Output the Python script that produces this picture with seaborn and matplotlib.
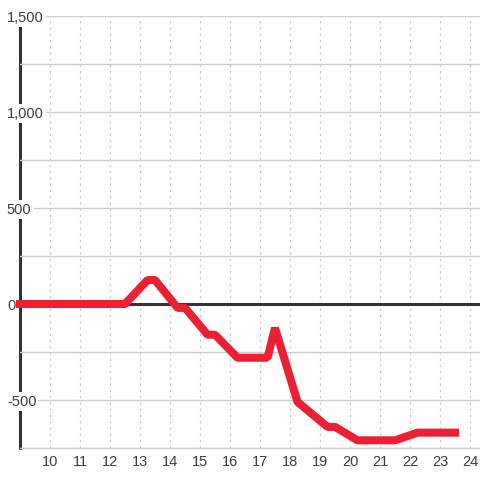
import matplotlib
matplotlib.use("Agg")
import matplotlib.pyplot as plt
from matplotlib.ticker import FuncFormatter, MultipleLocator
import pandas as pd
import seaborn as sns

# corner points of the red series
hours = [9, 12.5, 13.25, 13.5, 14.25, 14.5, 15.25, 15.5, 16.25, 17.25, 17.5,
         18.25, 19.25, 19.5, 20.25, 21.5, 22.25, 23.5]
values = [0, 0, 125, 125, -20, -20, -160, -160, -280, -280, -125,
          -510, -640, -640, -710, -710, -670, -670]

x_ticks = list(range(10, 25))
y_ticks = [-500, 0, 500, 1000, 1500]

RED = "#ed1f33"
TEXT = "#3d3d3d"
GRID = "#cccccc"

sns.set_theme(style="whitegrid")
plt.rcParams["font.family"] = ["Liberation Sans", "DejaVu Sans"]

df = pd.DataFrame({"hour": hours, "value": values})

fig = plt.figure(figsize=(4.8, 4.8), dpi=100)
ax = fig.add_axes([20 / 480, 32 / 480, 460 / 480, 432 / 480])

ax.axhline(0, color="#333333", lw=2.2, zorder=2.7)
sns.lineplot(data=df, x="hour", y="value", ax=ax, color=RED, lw=5.8,
             zorder=3, clip_on=False, solid_capstyle="projecting",
             solid_joinstyle="bevel")

ax.set_xlim(9, 9 + 460 / 30)
ax.set_ylim(-750, 1500)
ax.set_xticks(x_ticks)
ax.set_yticks(y_ticks)
ax.yaxis.set_minor_locator(MultipleLocator(250))
ax.yaxis.set_major_formatter(FuncFormatter(lambda v, _: f"{v:,.0f}"))
ax.set_xlabel("")
ax.set_ylabel("")

ax.set_axisbelow(False)
ax.grid(False)
ax.grid(axis="y", which="both", color=GRID, lw=1, ls="-")
ax.grid(axis="x", which="major", color=GRID, lw=0.9, ls=(0, (2, 3)))

for s in ["top", "right"]:
    ax.spines[s].set_visible(False)
ax.spines["left"].set_color("#333333")
ax.spines["left"].set_linewidth(2.2)
ax.spines["bottom"].set_color(GRID)
ax.spines["bottom"].set_linewidth(1)

ax.tick_params(axis="both", which="both", length=0, labelsize=10.5,
               labelcolor=TEXT)
ax.tick_params(axis="x", pad=5)
ax.tick_params(axis="y", pad=9.4)
for lab in ax.get_yticklabels():
    lab.set_horizontalalignment("left")
    lab.set_bbox(dict(facecolor="white", edgecolor="none", pad=1.5))

fig.savefig("out.png", dpi=100, facecolor="white")
